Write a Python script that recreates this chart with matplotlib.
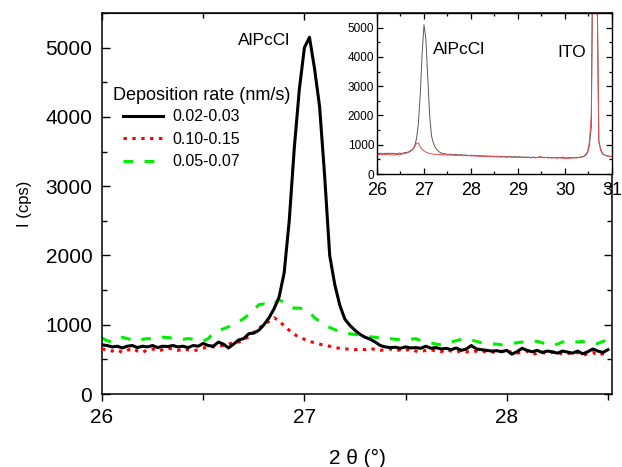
import numpy as np
import matplotlib
matplotlib.use("Agg")
import matplotlib.pyplot as plt
from matplotlib.ticker import MultipleLocator

plt.rcParams['font.family'] = ['Liberation Sans', 'DejaVu Sans']

# ---- main panel: 2-theta scan around the AlPcCl reflection ----
theta = np.round(np.arange(26.0, 28.5001, 0.025), 3)

rate_002_003 = [
    710, 700, 680, 690, 665, 690, 700, 670, 690, 680,
    700, 670, 690, 685, 700, 680, 690, 670, 700, 690,
    730, 700, 690, 750, 720, 665, 720, 780, 800, 870,
    880, 920, 1000, 1100, 1230, 1400, 1750, 2500, 3550, 4400,
    5000, 5150, 4700, 4150, 3150, 2000, 1580, 1280, 1080, 990,
    920, 860, 820, 790, 750, 700, 680, 670, 675, 660,
    680, 665, 670, 660, 690, 660, 670, 650, 660, 640,
    665, 630, 650, 700, 650, 640, 630, 620, 625, 610,
    630, 575, 610, 660, 630, 610, 630, 600, 620, 610,
    590, 620, 605, 590, 620, 580, 610, 650, 620, 600,
    640,
]

rate_010_015 = [
    650, 640, 620, 640, 600, 630, 660, 620, 600, 640,
    650, 620, 640, 660, 650, 630, 650, 640, 620, 640,
    660, 690, 680, 690, 700, 720, 740, 750, 780, 830,
    890, 950, 1000, 1050, 1100, 1060, 980, 920, 860, 820,
    790, 760, 740, 720, 700, 690, 670, 660, 650, 650,
    640, 650, 640, 660, 640, 630, 640, 650, 620, 640,
    630, 650, 620, 610, 630, 640, 620, 610, 640, 620,
    600, 630, 610, 600, 620, 630, 600, 610, 590, 620,
    600, 610, 590, 600, 620, 570, 590, 600, 580, 600,
    610, 570, 590, 580, 600, 560, 580, 600, 560, 580,
    600,
]

rate_005_007 = [
    810, 770, 750, 790, 820, 800, 780, 760, 790, 800,
    790, 810, 820, 815, 810, 800, 790, 800, 790, 770,
    760, 800, 880, 920, 940, 970, 1000, 1040, 1090, 1150,
    1210, 1290, 1300, 1270, 1300, 1360, 1320, 1270, 1240, 1240,
    1230, 1180, 1100, 1050, 1000, 960, 930, 900, 880, 870,
    860, 850, 840, 825, 820, 810, 805, 800, 790, 785,
    780, 790, 800, 770, 750, 740, 720, 710, 720, 750,
    770, 790, 800, 780, 760, 740, 730, 720, 720, 710,
    720, 730, 740, 750, 740, 750, 760, 740, 710, 700,
    720, 750, 770, 760, 750, 760, 730, 720, 730, 760,
    780,
]

# ---- inset: wide scan including the ITO substrate peak ----
theta_wide = np.round(np.arange(26.0, 31.0001, 0.04), 2)

wide_slow = [
    720, 700, 710, 690, 705, 700, 715, 695, 710, 700,
    690, 705, 715, 700, 720, 730, 740, 760, 800, 850,
    950, 1200, 1700, 2700, 4100, 5100, 4600, 3300, 2000, 1300,
    1050, 900, 820, 760, 720, 700, 690, 680, 670, 680,
    665, 660, 670, 650, 660, 655, 640, 650, 640, 630,
    645, 630, 640, 620, 630, 615, 625, 610, 620, 600,
    615, 605, 610, 595, 610, 600, 590, 600, 595, 585,
    600, 590, 580, 595, 585, 580, 590, 575, 585, 570,
    580, 575, 565, 580, 570, 560, 575, 580, 565, 570,
    560, 575, 560, 555, 570, 560, 550, 565, 555, 580,
    550, 545, 560, 550, 560, 555, 570, 560, 575, 580,
    600, 640, 720, 1000, 1600, 9000, 12000, 7000, 1100, 850,
    700, 650, 625, 610, 600, 590,
]

wide_fast = [
    680, 660, 670, 650, 665, 655, 670, 650, 660, 645,
    660, 670, 655, 675, 690, 700, 720, 750, 780, 840,
    930, 1050, 1060, 930, 840, 790, 750, 720, 700, 690,
    680, 670, 675, 660, 665, 650, 660, 645, 655, 640,
    650, 645, 630, 645, 635, 640, 625, 635, 620, 630,
    615, 625, 610, 620, 605, 615, 600, 610, 595, 605,
    590, 600, 585, 595, 580, 590, 575, 590, 580, 570,
    585, 575, 565, 580, 570, 575, 560, 570, 565, 555,
    570, 560, 555, 565, 550, 560, 570, 610, 560, 555,
    565, 550, 560, 545, 555, 550, 540, 555, 545, 540,
    530, 545, 535, 550, 545, 555, 550, 565, 570, 580,
    610, 660, 760, 1100, 2000, 9500, 12000, 6800, 1150, 800,
    680, 640, 625, 615, 605, 600,
]

series_labels = ["0.02-0.03", "0.10-0.15", "0.05-0.07"]
x_ticks_main = [26, 27, 28]
y_ticks = [0, 1000, 2000, 3000, 4000, 5000]
x_ticks_inset = [26, 27, 28, 29, 30, 31]

fig = plt.figure(figsize=(6.22, 4.67), dpi=100)
ax = fig.add_axes([0.164, 0.1563, 0.820, 0.8158])

lw = 2.2
ax.plot(theta, rate_002_003, color="black", lw=lw, label=series_labels[0], zorder=4)
ax.plot(theta, rate_010_015, color="#ff0000", lw=lw, linestyle=(0, (1.1, 1.8)),
        label=series_labels[1], zorder=3)
ax.plot(theta, rate_005_007, color="#00ee00", lw=lw, linestyle=(0, (3.2, 3.7)),
        label=series_labels[2], zorder=2)

ax.set_xlim(26, 28.52)
ax.set_ylim(0, 5500)
ax.set_xticks(x_ticks_main)
ax.set_yticks(y_ticks)
ax.xaxis.set_minor_locator(MultipleLocator(0.5))
ax.yaxis.set_minor_locator(MultipleLocator(500))

ax.tick_params(axis="x", which="both", direction="out", labelsize=15, pad=5)
ax.tick_params(axis="x", which="major", length=5, width=1)
ax.tick_params(axis="x", which="minor", length=4, width=1)
ax.tick_params(axis="y", which="both", direction="in", right=True, labelsize=15, pad=7)
ax.tick_params(axis="y", which="major", length=6, width=1)
ax.tick_params(axis="y", which="minor", length=3.5, width=1)
for s in ax.spines.values():
    s.set_linewidth(1.1)

# inward ticks along the top edge
top = ax.secondary_xaxis("top")
top.set_xticks(x_ticks_main)
top.xaxis.set_minor_locator(MultipleLocator(0.5))
top.tick_params(axis="x", which="both", direction="in", labeltop=False, width=1)
top.tick_params(axis="x", which="major", length=5)
top.tick_params(axis="x", which="minor", length=3.5)

ax.set_xlabel("2 \u03b8 (\u00b0)", fontsize=15, labelpad=16)
ax.set_ylabel("I (cps)", fontsize=12, labelpad=10)

ax.text(26.93, 5110, "AlPcCl", fontsize=12.5, ha="right", va="center")

ax.text(0.022, 0.7835, "Deposition rate (nm/s)", transform=ax.transAxes,
        fontsize=13, ha="left", va="center")
leg = ax.legend(loc="upper left", bbox_to_anchor=(0.041, 0.747), frameon=False,
                fontsize=11.5, handlelength=2.5, handletextpad=0.62,
                labelspacing=0.47, borderpad=0, borderaxespad=0)

# ---- inset ----
ins = fig.add_axes([0.6061, 0.6274, 0.3778, 0.3448])
ins.set_facecolor("white")
ins.plot(theta_wide, wide_slow, color="#5a5a5a", lw=0.7)
ins.plot(theta_wide, wide_fast, color="#e8474a", lw=0.7)
ins.set_xlim(26, 31)
ins.set_ylim(0, 5500)
ins.set_xticks(x_ticks_inset)
ins.set_yticks(y_ticks)
ins.xaxis.set_minor_locator(MultipleLocator(0.5))
ins.yaxis.set_minor_locator(MultipleLocator(500))
ins.tick_params(axis="x", which="both", direction="in", top=True, labelsize=13, pad=5.5)
ins.tick_params(axis="y", which="both", direction="in", right=True, labelsize=8.5, pad=2)
ins.tick_params(which="major", length=4, width=0.9)
ins.tick_params(which="minor", length=2.5, width=0.9)
for s in ins.spines.values():
    s.set_linewidth(1.0)
ins.text(27.2, 4250, "AlPcCl", fontsize=12.5, ha="left", va="center")
ins.text(30.45, 4150, "ITO", fontsize=12.5, ha="right", va="center")

fig.savefig("out.png", dpi=100)
